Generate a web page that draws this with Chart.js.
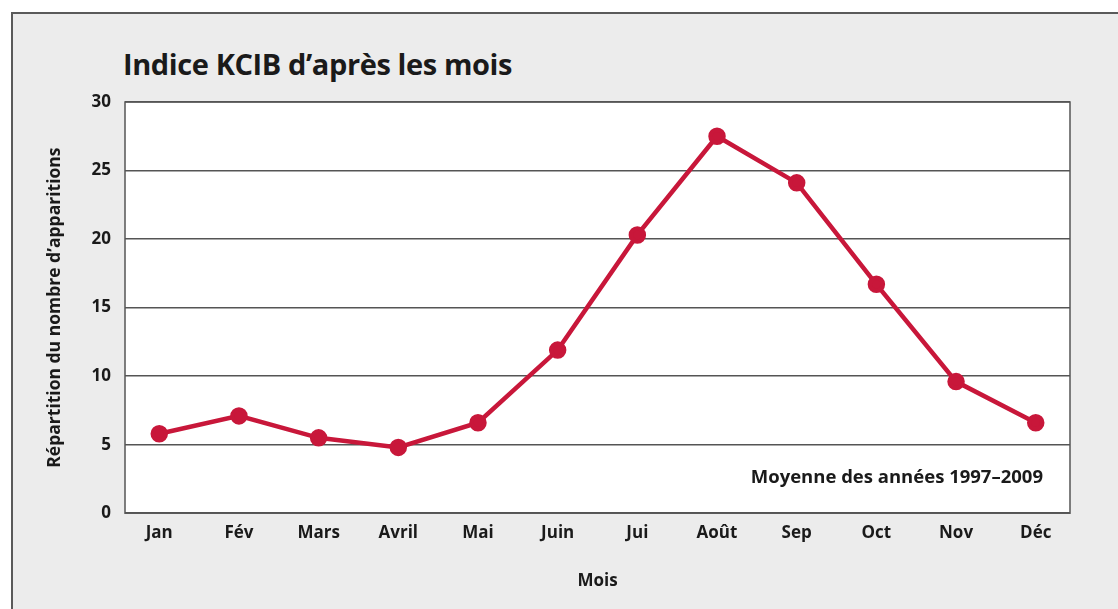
<!DOCTYPE html>
<html>
<head>
<meta charset="utf-8">
<script src="https://cdn.jsdelivr.net/npm/chart.js@4"></script>
<style>
  html, body { margin: 0; padding: 0; background: #fff; overflow: hidden; }
  #wrap { position: relative; width: 1118px; height: 609px; overflow: hidden; }
  #frame { position: absolute; left: 11px; top: 12px; width: 1200px; height: 700px;
           border: 2px solid #5a5a5a; background: #ececec; }
  #title { position: absolute; left: 123px; top: 44px; margin: 0;
           font: 700 29px "Open Sans", sans-serif; color: #1a1a1a; letter-spacing: -0.4px; }
  canvas { position: absolute; left: 0; top: 0; }
</style>
</head>
<body>
<div id="wrap">
  <div id="frame"></div>
  <h1 id="title">Indice KCIB d’après les mois</h1>
  <canvas id="myChart" width="1118" height="609"></canvas>
</div>
<script>
var months = ["Jan", "Fév", "Mars", "Avril", "Mai", "Juin", "Jui", "Août", "Sep", "Oct", "Nov", "Déc"];
var values = [5.8, 7.1, 5.5, 4.8, 6.6, 11.9, 20.3, 27.5, 24.1, 16.7, 9.6, 6.6];
var yTicks = [0, 5, 10, 15, 20, 25, 30];
var note = "Moyenne des années 1997–2009";

var red = "#c8173a";
var grey = "#555555";
var tickFont = { family: "Open Sans", weight: "bold", size: 17 };

var points = [];
for (var i = 0; i < values.length; i++) {
    points.push({ x: i, y: values[i] });
}

// white plot box with a frame, and the note in the corner
var plotBox = {
    id: 'plotBox',
    beforeDraw: function(chart) {
        var a = chart.chartArea;
        var c = chart.ctx;
        c.save();
        c.fillStyle = "#fff";
        c.fillRect(a.left, a.top, a.right - a.left, a.bottom - a.top);
        c.restore();
    },
    afterDatasetsDraw: function(chart) {
        var a = chart.chartArea;
        var c = chart.ctx;
        c.save();
        c.strokeStyle = grey;
        c.lineWidth = 1.5;
        c.strokeRect(a.left, a.top, a.right - a.left, a.bottom - a.top);
        c.fillStyle = "#1a1a1a";
        c.font = "bold 18.5px 'Open Sans'";
        c.textAlign = "right";
        c.textBaseline = "middle";
        c.fillText(note, a.right - 27, 478);
        c.restore();
    }
};

var ctx = document.getElementById("myChart").getContext("2d");
var myChart = new Chart(ctx, {
    type: 'line',
    data: {
        datasets: [{
            data: points,
            borderColor: red,
            backgroundColor: red,
            borderWidth: 4.5,
            pointRadius: 6.5,
            pointHoverRadius: 6.5,
            pointBackgroundColor: red,
            pointBorderColor: red,
            tension: 0
        }]
    },
    options: {
        responsive: false,
        animation: false,
        layout: { padding: { left: 45, top: 102, right: 48, bottom: 18 } },
        plugins: { legend: { display: false }, tooltip: { enabled: false } },
        scales: {
            x: {
                type: 'linear',
                min: -0.43,
                max: 11.43,
                afterBuildTicks: function(scale) {
                    scale.ticks = months.map(function(m, i) { return { value: i }; });
                },
                ticks: {
                    color: "#1a1a1a",
                    font: tickFont,
                    padding: 10,
                    maxRotation: 0,
                    callback: function(v) { return months[v]; }
                },
                grid: { display: false, drawTicks: false },
                border: { display: false },
                title: {
                    display: true,
                    text: "Mois",
                    color: "#1a1a1a",
                    font: tickFont,
                    padding: { top: 17, bottom: 0 }
                }
            },
            y: {
                min: 0,
                max: 30,
                afterBuildTicks: function(scale) {
                    scale.ticks = yTicks.map(function(v) { return { value: v }; });
                },
                afterFit: function(scale) { scale.width = 80; },
                ticks: { color: "#1a1a1a", font: tickFont, padding: 14 },
                grid: { color: grey, lineWidth: 1.5, drawTicks: false },
                border: { display: false },
                title: {
                    display: true,
                    text: "Répartition du nombre d’apparitions",
                    color: "#1a1a1a",
                    font: { family: "Open Sans", weight: "bold", size: 17.5 },
                    padding: 0
                }
            }
        }
    },
    plugins: [plotBox]
});
</script>
</body>
</html>
